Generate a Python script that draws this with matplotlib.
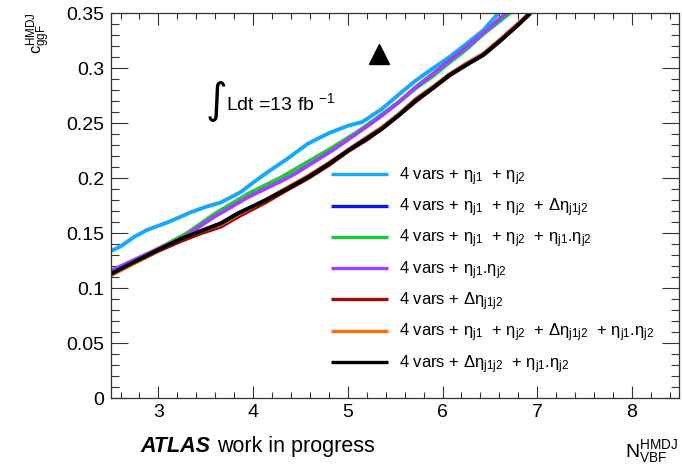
import matplotlib

matplotlib.use("Agg")

import matplotlib.pyplot as plt
import matplotlib.ticker as ticker
import numpy as np

# --- Style ---
plt.rcParams['font.family'] = ['Liberation Sans', 'DejaVu Sans']
plt.rcParams['mathtext.fontset'] = 'custom'
plt.rcParams['mathtext.rm'] = 'Liberation Sans'
plt.rcParams['mathtext.it'] = 'Liberation Sans:italic'
plt.rcParams['mathtext.bf'] = 'Liberation Sans:bold'

FS_TICK = 14
FS_LEGEND = 12
FS_TEXT = 14

# --- Data ---
x_lblue = [2.5, 2.6, 2.75, 2.88, 3.1, 3.34, 3.5, 3.66, 3.87, 4.0, 4.16, 4.35, 4.58, 4.8, 5.01, 5.15, 5.36, 5.55, 5.72, 5.9, 6.07, 6.25, 6.43, 6.59]
y_lblue = [0.134, 0.138, 0.147, 0.153, 0.160, 0.169, 0.174, 0.178, 0.1875, 0.196, 0.206, 0.217, 0.2315, 0.241, 0.248, 0.251, 0.263, 0.277, 0.289, 0.300, 0.310, 0.322, 0.3345, 0.350]

x_purple = [2.5, 2.7, 3.0, 3.24, 3.59, 3.95, 4.31, 4.45, 4.84, 5.1, 5.36, 5.55, 5.72, 5.9, 6.07, 6.25, 6.43, 6.67]
y_purple = [0.116, 0.124, 0.136, 0.145, 0.165, 0.183, 0.198, 0.2045, 0.2255, 0.241, 0.257, 0.270, 0.283, 0.295, 0.307, 0.319, 0.332, 0.350]

x_green = [2.5, 2.7, 3.0, 3.3, 3.6, 3.95, 4.3, 4.8, 5.1, 5.36, 5.55, 5.72, 5.9, 6.07, 6.25, 6.43, 6.71]
y_green = [0.114, 0.123, 0.136, 0.150, 0.168, 0.186, 0.201, 0.226, 0.242, 0.258, 0.270, 0.282, 0.293, 0.305, 0.317, 0.331, 0.350]

x_black = [2.5, 2.7, 3.0, 3.24, 3.45, 3.66, 3.84, 4.13, 4.35, 4.58, 4.8, 5.01, 5.2, 5.36, 5.55, 5.72, 5.9, 6.07, 6.25, 6.43, 6.61, 6.78, 6.93]
y_black = [0.113, 0.122, 0.135, 0.145, 0.152, 0.159, 0.168, 0.180, 0.190, 0.201, 0.213, 0.2255, 0.236, 0.245, 0.258, 0.271, 0.282, 0.2936, 0.303, 0.312, 0.325, 0.338, 0.350]

x_dred = [2.5, 2.7, 3.0, 3.24, 3.45, 3.66, 3.84, 4.13, 4.35, 4.58, 4.8, 5.01, 5.2, 5.36, 5.55, 5.72, 5.9, 6.07, 6.25, 6.43, 6.61, 6.78, 6.92]
y_dred = [0.112, 0.121, 0.134, 0.143, 0.150, 0.156, 0.165, 0.178, 0.189, 0.200, 0.212, 0.225, 0.235, 0.245, 0.258, 0.270, 0.282, 0.293, 0.303, 0.312, 0.325, 0.338, 0.350]

x_orange = [2.5, 2.7, 3.0, 3.24, 3.45, 3.66, 3.84, 4.13, 4.35, 4.58, 4.8, 5.01, 5.2, 5.36, 5.55, 5.72, 5.9, 6.07, 6.25, 6.43, 6.61, 6.78, 6.92]
y_orange = [0.112, 0.121, 0.135, 0.145, 0.152, 0.158, 0.167, 0.180, 0.191, 0.202, 0.214, 0.226, 0.237, 0.246, 0.259, 0.272, 0.283, 0.294, 0.304, 0.313, 0.326, 0.339, 0.350]

x_blue = [2.5, 2.7, 3.0, 3.24, 3.45, 3.66, 3.84, 4.13, 4.35, 4.58, 4.8, 5.01, 5.2, 5.36, 5.55, 5.72, 5.9, 6.07, 6.25, 6.43, 6.61, 6.78, 6.92]
y_blue = [0.113, 0.122, 0.135, 0.145, 0.152, 0.159, 0.168, 0.180, 0.190, 0.201, 0.213, 0.226, 0.237, 0.246, 0.259, 0.272, 0.283, 0.294, 0.304, 0.313, 0.326, 0.339, 0.350]

labels = [
    r'4 vars + η$_{\mathrm{j1}}$  + η$_{\mathrm{j2}}$',
    r'4 vars + η$_{\mathrm{j1}}$  + η$_{\mathrm{j2}}$  + Δη$_{\mathrm{j1j2}}$',
    r'4 vars + η$_{\mathrm{j1}}$  + η$_{\mathrm{j2}}$  + η$_{\mathrm{j1}}$.η$_{\mathrm{j2}}$',
    r'4 vars + η$_{\mathrm{j1}}$.η$_{\mathrm{j2}}$',
    r'4 vars + Δη$_{\mathrm{j1j2}}$',
    r'4 vars + η$_{\mathrm{j1}}$  + η$_{\mathrm{j2}}$  + Δη$_{\mathrm{j1j2}}$  + η$_{\mathrm{j1}}$.η$_{\mathrm{j2}}$',
    r'4 vars + Δη$_{\mathrm{j1j2}}$  + η$_{\mathrm{j1}}$.η$_{\mathrm{j2}}$',
]
colors = ['#12aaff', '#0a14e6', '#1ec83c', '#a040ff', '#990a0a', '#ff6a10', '#000000']

series = [
    (x_lblue, y_lblue),
    (x_blue, y_blue),
    (x_green, y_green),
    (x_purple, y_purple),
    (x_dred, y_dred),
    (x_orange, y_orange),
    (x_black, y_black),
]

marker_x = [5.33]
marker_y = [0.313]

# --- Figure ---
fig = plt.figure(figsize=(6.82, 4.73), dpi=100)
ax = fig.add_axes([0.1628, 0.158, 0.8332, 0.814])

for (xs, ys), col, lab in zip(series, colors, labels):
    ax.plot(xs, ys, color=col, linewidth=2.8, label=lab, solid_capstyle='butt')

ax.plot(marker_x, marker_y, marker='^', color='black', markersize=15, linestyle='none')

ax.set_xlim(2.5, 8.5)
ax.set_ylim(0, 0.35)

ax.xaxis.set_major_locator(ticker.MultipleLocator(1))
ax.xaxis.set_minor_locator(ticker.MultipleLocator(0.2))
ax.yaxis.set_major_locator(ticker.MultipleLocator(0.05))
ax.yaxis.set_minor_locator(ticker.MultipleLocator(0.01))
ax.yaxis.set_major_formatter(ticker.FuncFormatter(lambda v, p: f"{v:g}"))

ax.tick_params(axis='both', which='both', direction='in', top=True, right=True,
               color='#333333', width=0.8)
ax.tick_params(axis='x', which='major', length=8.4, pad=4, labelsize=FS_TICK)
ax.tick_params(axis='x', which='minor', length=4.2)
ax.tick_params(axis='y', which='major', length=12.2, pad=5, labelsize=FS_TICK)
ax.tick_params(axis='y', which='minor', length=6.1)
for sp in ax.spines.values():
    sp.set_color('#333333')
    sp.set_linewidth(0.9)

leg = ax.legend(loc='upper left', bbox_to_anchor=(0.387, 0.605), frameon=False,
                fontsize=FS_LEGEND, handlelength=3.4, handletextpad=0.7,
                labelspacing=0.52, borderaxespad=0, borderpad=0)
for line in leg.get_lines():
    line.set_linewidth(2.4)

# --- Annotations ---
ax.text(0.167, 0.772, '∫', transform=ax.transAxes, fontsize=30,
        family='DejaVu Sans', ha='left', va='center')
ax.text(0.203, 0.767, r'Ldt =13 fb $^{\mathrm{-1}}$', transform=ax.transAxes,
        fontsize=FS_TEXT, ha='left', va='center')

fig.text(0.206, 0.045, 'ATLAS', fontsize=15.5, fontweight='bold', fontstyle='italic',
         ha='left', va='baseline')
fig.text(0.318, 0.045, 'work in progress', fontsize=15.5, ha='left', va='baseline')

fig.text(0.995, 0.033, r'N$^{\mathrm{HMDJ}}_{\mathrm{VBF}}$', fontsize=FS_TEXT,
         ha='right', va='baseline')
fig.text(0.036, 0.975, r'c$^{\mathrm{HMDJ}}_{\mathrm{ggF}}$', fontsize=12,
         rotation=90, ha='left', va='top')

fig.savefig('out.png', dpi=100)
